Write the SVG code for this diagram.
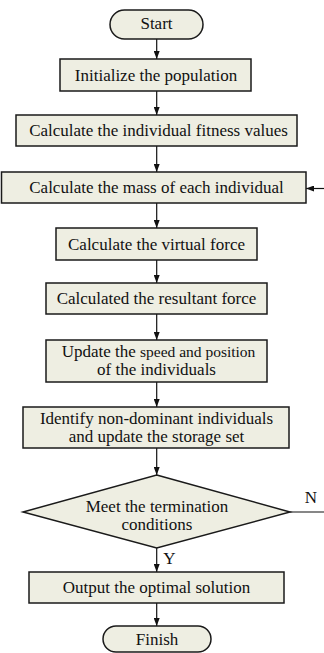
<svg xmlns="http://www.w3.org/2000/svg" width="324" height="653" viewBox="0 0 324 653">
<defs>
<style>
.box{fill:#eeeee2;stroke:#1a1a1a;stroke-width:1.5}
.t{font-family:"Liberation Serif","Times New Roman",serif;font-size:17px;fill:#111;text-anchor:middle}
.s{font-size:15.5px}
.c{fill:none;stroke:#111;stroke-width:1.2}
</style>
<marker id="ah" viewBox="0 0 8 6" refX="8" refY="3" markerWidth="8" markerHeight="6" markerUnits="userSpaceOnUse" orient="auto">
<path d="M0,0 L8,3 L0,6 Z" fill="#111"/>
</marker>
</defs>
<rect width="324" height="653" fill="#fff"/>
<g id="connectors">
<line class="c" x1="156.7" y1="39" x2="156.7" y2="59" marker-end="url(#ah)"/>
<line class="c" x1="156.7" y1="91" x2="156.7" y2="115" marker-end="url(#ah)"/>
<line class="c" x1="156.7" y1="146" x2="156.7" y2="172" marker-end="url(#ah)"/>
<line class="c" x1="156.7" y1="203" x2="156.7" y2="228" marker-end="url(#ah)"/>
<line class="c" x1="156.7" y1="260" x2="156.7" y2="283" marker-end="url(#ah)"/>
<line class="c" x1="156.7" y1="314" x2="156.7" y2="340" marker-end="url(#ah)"/>
<line class="c" x1="156.7" y1="382" x2="156.7" y2="407" marker-end="url(#ah)"/>
<line class="c" x1="156.7" y1="448" x2="156.7" y2="475" marker-end="url(#ah)"/>
<line class="c" x1="156.7" y1="548" x2="156.7" y2="572" marker-end="url(#ah)"/>
<line class="c" x1="156.7" y1="603" x2="156.7" y2="626" marker-end="url(#ah)"/>
<line class="c" x1="290" y1="512" x2="324" y2="512"/>
<line class="c" x1="324" y1="188.5" x2="306" y2="188.5" marker-end="url(#ah)"/>
<text class="t" x="311" y="503">N</text>
<text class="t" x="169.5" y="564">Y</text>
</g>
<g id="start">
<rect class="box" x="110" y="10" width="93" height="29" rx="14.5"/>
<text class="t" x="156.5" y="29">Start</text>
</g>
<g id="init">
<rect class="box" x="60" y="59" width="191" height="32"/>
<text class="t" x="156" y="81">Initialize the population</text>
</g>
<g id="fitness">
<rect class="box" x="16" y="115" width="281" height="31"/>
<text class="t" x="158.5" y="136">Calculate the individual fitness values</text>
</g>
<g id="mass">
<rect class="box" x="1.5" y="172" width="304.5" height="31"/>
<text class="t" x="156.5" y="193">Calculate the mass of each individual</text>
</g>
<g id="virtual">
<rect class="box" x="56" y="228" width="201" height="32"/>
<text class="t" x="156.5" y="250">Calculate the virtual force</text>
</g>
<g id="resultant">
<rect class="box" x="46" y="283" width="221" height="31"/>
<text class="t" x="156.5" y="304">Calculated the resultant force</text>
</g>
<g id="update">
<rect class="box" x="46" y="340" width="221" height="42"/>
<text class="t" x="158.5" y="357">Update the <tspan class="s">speed and position</tspan></text>
<text class="t" x="156.5" y="375">of the individuals</text>
</g>
<g id="identify">
<rect class="box" x="23" y="407" width="266" height="41"/>
<text class="t" x="156.5" y="424">Identify non-dominant individuals</text>
<text class="t" x="156.5" y="442">and update the storage set</text>
</g>
<g id="decision">
<polygon class="box" points="156.7,475 290,512 156.7,548 23,512"/>
<text class="t" x="157" y="512">Meet the termination</text>
<text class="t" x="157" y="530">conditions</text>
</g>
<g id="output">
<rect class="box" x="29" y="572" width="255" height="31"/>
<text class="t" x="156.5" y="593">Output the optimal solution</text>
</g>
<g id="finish">
<rect class="box" x="103" y="626" width="108" height="26" rx="13"/>
<text class="t" x="157" y="645">Finish</text>
</g>
</svg>
